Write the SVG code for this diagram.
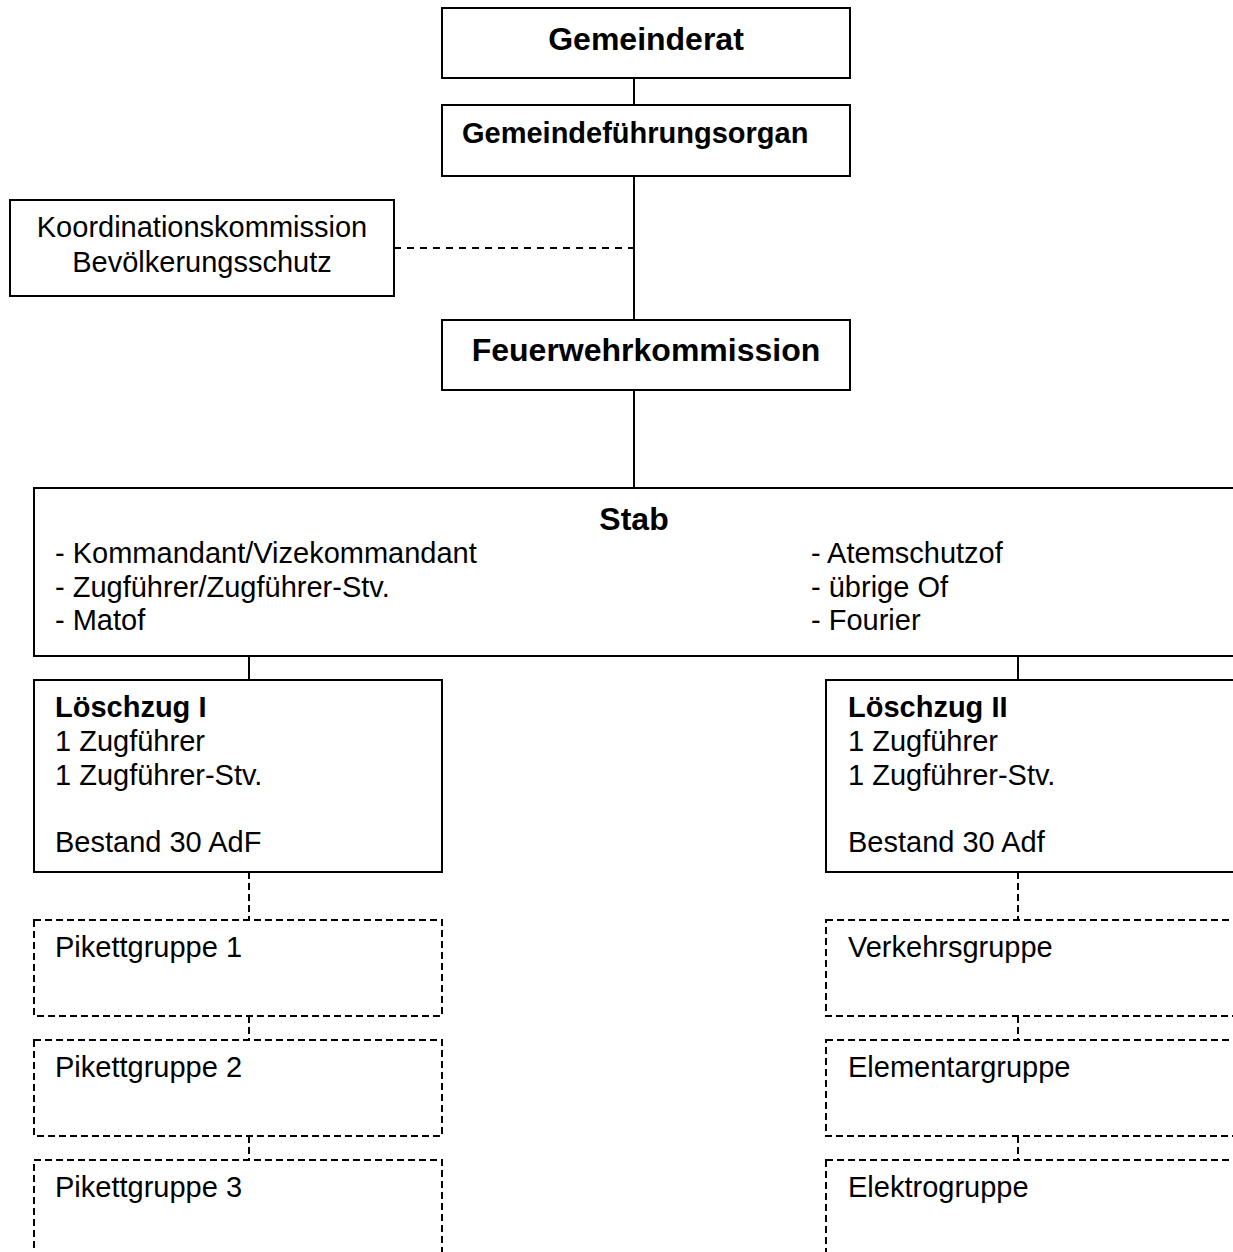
<svg xmlns="http://www.w3.org/2000/svg" width="1233" height="1252" viewBox="0 0 1233 1252">
<defs>
<style>
.box{fill:#fff;stroke:#000;stroke-width:2}
.dbox{fill:#fff;stroke:#000;stroke-width:2;stroke-dasharray:7 4}
.ln{stroke:#000;stroke-width:2;fill:none}
.dln{stroke:#000;stroke-width:2;fill:none;stroke-dasharray:7 4}
.dln2{stroke:#000;stroke-width:2;fill:none;stroke-dasharray:7 6}
text{font-family:"Liberation Sans",Arial,sans-serif;font-size:29px;fill:#000}
.b{font-weight:bold}
.b32{font-weight:bold;font-size:32px}
.c{text-anchor:middle}
</style>
</defs>
<rect width="1233" height="1252" fill="#fff"/>
<g id="connectors">
<line class="ln" x1="634" y1="78" x2="634" y2="105"/>
<line class="ln" x1="634" y1="176" x2="634" y2="320"/>
<line class="dln2" x1="394" y1="248" x2="634" y2="248"/>
<line class="ln" x1="634" y1="390" x2="634" y2="488"/>
<line class="ln" x1="249" y1="656" x2="249" y2="680"/>
<line class="ln" x1="1018" y1="656" x2="1018" y2="680"/>
<line class="dln" x1="249" y1="872" x2="249" y2="920"/>
<line class="dln" x1="249" y1="1016" x2="249" y2="1040"/>
<line class="dln" x1="249" y1="1136" x2="249" y2="1160"/>
<line class="dln" x1="1018" y1="872" x2="1018" y2="920"/>
<line class="dln" x1="1018" y1="1016" x2="1018" y2="1040"/>
<line class="dln" x1="1018" y1="1136" x2="1018" y2="1160"/>
</g>
<g id="gemeinderat">
<rect class="box" x="442" y="8" width="408" height="70"/>
<text class="b32 c" x="646" y="50">Gemeinderat</text>
</g>
<g id="gemeindefuehrungsorgan">
<rect class="box" x="442" y="105" width="408" height="71"/>
<text class="b" x="462" y="143">Gemeindeführungsorgan</text>
</g>
<g id="koordinationskommission">
<rect class="box" x="10" y="200" width="384" height="96"/>
<text class="c" x="202" y="237">Koordinationskommission</text>
<text class="c" x="202" y="272">Bevölkerungsschutz</text>
</g>
<g id="feuerwehrkommission">
<rect class="box" x="442" y="320" width="408" height="70"/>
<text class="b32 c" x="646" y="361">Feuerwehrkommission</text>
</g>
<g id="stab">
<rect class="box" x="34" y="488" width="1220" height="168"/>
<text class="b32 c" x="634" y="530">Stab</text>
<text x="55" y="563">- Kommandant/Vizekommandant</text>
<text x="55" y="597">- Zugführer/Zugführer-Stv.</text>
<text x="55" y="630">- Matof</text>
<text x="811" y="563">- Atemschutzof</text>
<text x="811" y="597">- übrige Of</text>
<text x="811" y="630">- Fourier</text>
</g>
<g id="loeschzug1">
<rect class="box" x="34" y="680" width="408" height="192"/>
<text class="b" x="55" y="717">Löschzug I</text>
<text x="55" y="751">1 Zugführer</text>
<text x="55" y="785">1 Zugführer-Stv.</text>
<text x="55" y="852">Bestand 30 AdF</text>
</g>
<g id="loeschzug2">
<rect class="box" x="826" y="680" width="428" height="192"/>
<text class="b" x="848" y="717">Löschzug II</text>
<text x="848" y="751">1 Zugführer</text>
<text x="848" y="785">1 Zugführer-Stv.</text>
<text x="848" y="852">Bestand 30 Adf</text>
</g>
<g id="pikett1">
<rect class="dbox" x="34" y="920" width="408" height="96"/>
<text x="55" y="957">Pikettgruppe 1</text>
</g>
<g id="pikett2">
<rect class="dbox" x="34" y="1040" width="408" height="96"/>
<text x="55" y="1077">Pikettgruppe 2</text>
</g>
<g id="pikett3">
<rect class="dbox" x="34" y="1160" width="408" height="120"/>
<text x="55" y="1197">Pikettgruppe 3</text>
</g>
<g id="verkehrsgruppe">
<rect class="dbox" x="826" y="920" width="428" height="96"/>
<text x="848" y="957">Verkehrsgruppe</text>
</g>
<g id="elementargruppe">
<rect class="dbox" x="826" y="1040" width="428" height="96"/>
<text x="848" y="1077">Elementargruppe</text>
</g>
<g id="elektrogruppe">
<rect class="dbox" x="826" y="1160" width="428" height="120"/>
<text x="848" y="1197">Elektrogruppe</text>
</g>
</svg>
